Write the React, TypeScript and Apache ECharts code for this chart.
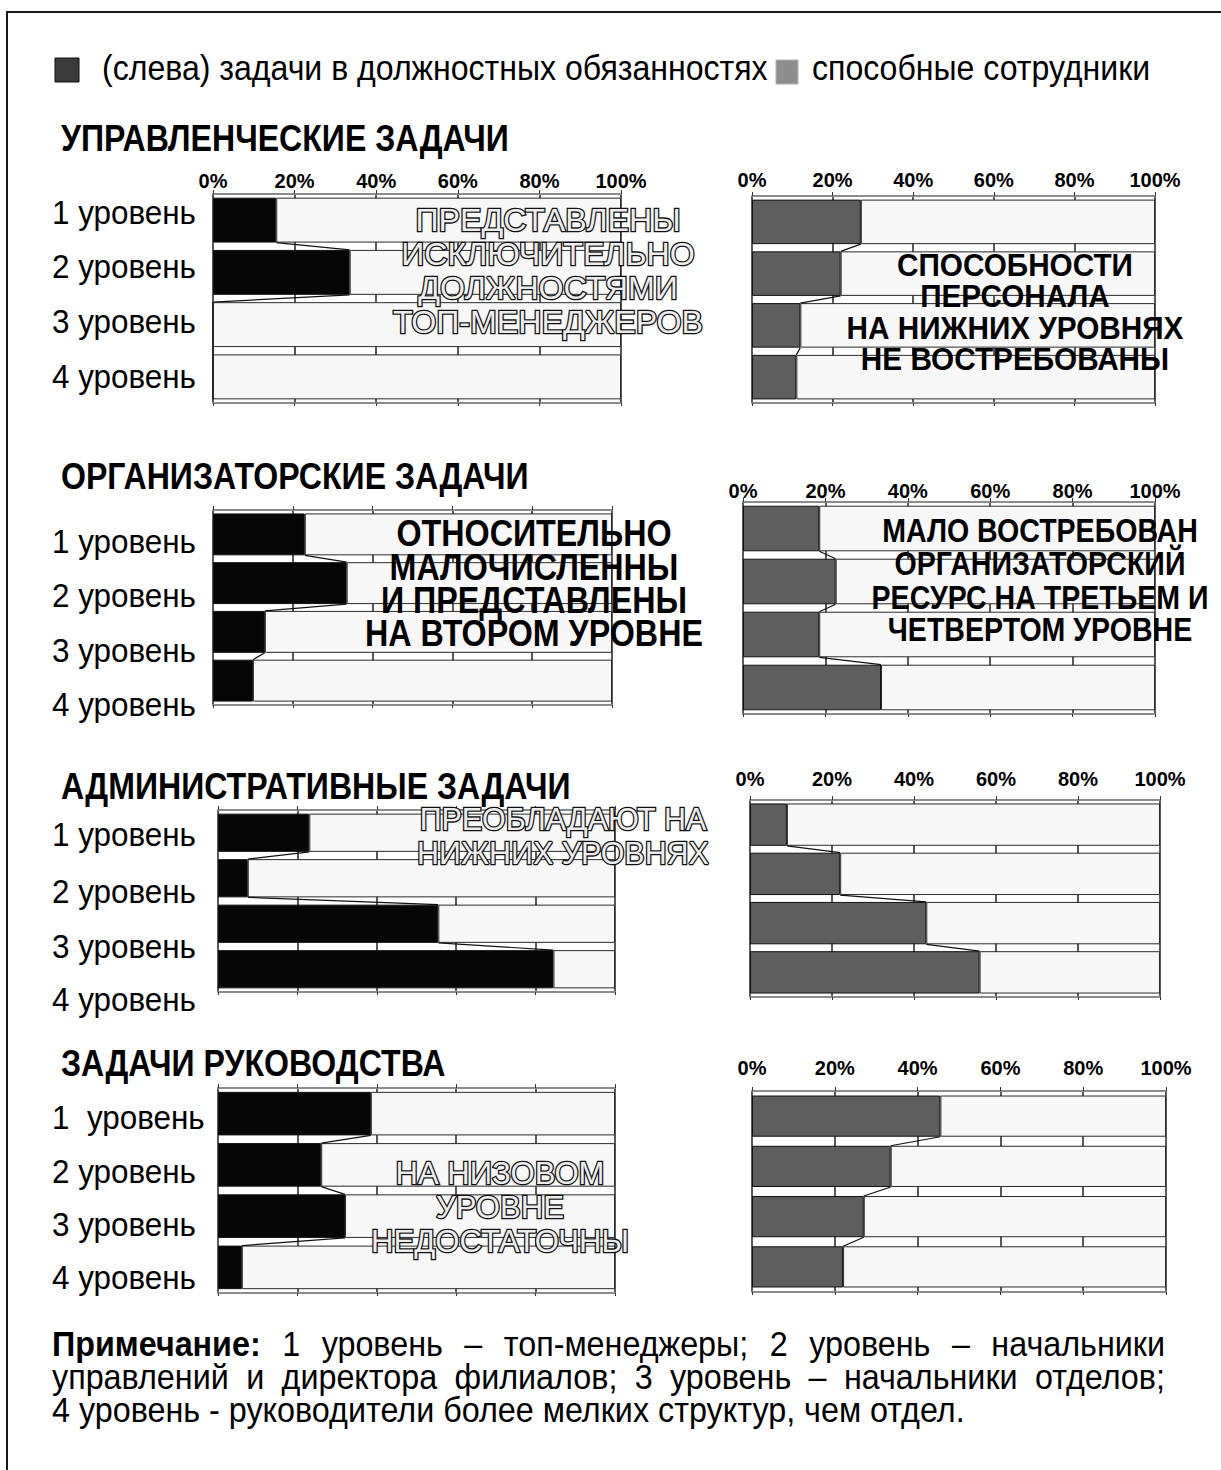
import React, { useEffect, useRef } from 'react';
import * as echarts from 'echarts';

const FONT = '"Liberation Sans", Arial, sans-serif';

// ---------- data ----------
const LEVELS = ['1 уровень', '2 уровень', '3 уровень', '4 уровень'];
const LEVELS_RUK = ['1  уровень', '2 уровень', '3 уровень', '4 уровень'];
const PCT_TICKS = [0, 20, 40, 60, 80, 100];

const UPR_DUTIES = [15.5, 33.5, 0, 0];
const UPR_ABLE = [27, 22, 12, 11];
const ORG_DUTIES = [23, 33.5, 13, 10];
const ORG_ABLE = [18.5, 22.5, 18.5, 33.5];
const ADM_DUTIES = [23, 7.5, 55.5, 84.5];
const ADM_ABLE = [9, 22, 43, 56];
const RUK_DUTIES = [38.5, 26, 32, 6];
const RUK_ABLE = [45.5, 33.5, 27, 22];

const TITLES = ['УПРАВЛЕНЧЕСКИЕ ЗАДАЧИ', 'ОРГАНИЗАТОРСКИЕ ЗАДАЧИ', 'АДМИНИСТРАТИВНЫЕ ЗАДАЧИ', 'ЗАДАЧИ РУКОВОДСТВА'];
const LEGEND_DUTIES = '(слева) задачи в должностных обязанностях';
const LEGEND_ABLE = 'способные сотрудники';

const NOTE_HEAD = 'Примечание:';
const NOTE_LINE1 = ['1', 'уровень', '–', 'топ-менеджеры;', '2', 'уровень', '–', 'начальники'];
const NOTE_LINE2 = ['управлений', 'и', 'директора', 'филиалов;', '3', 'уровень', '–', 'начальники', 'отделов;'];
const NOTE_LINE3 = '4 уровень - руководители более мелких структур, чем отдел.';

// ---------- layout ----------
const PCT_MIN = PCT_TICKS[0];
const PCT_MAX = PCT_TICKS[PCT_TICKS.length - 1];
const PCT_STEP = PCT_TICKS[1] - PCT_TICKS[0];

type ChartCfg = {
  values: number[];
  side: 'L' | 'R';
  grid: { left: number; top: number; width: number; height: number };
  labelY?: number;
  gap: number;
  levelY?: number[];
  levels?: string[];
};

const CHARTS: ChartCfg[] = [
  { values: UPR_DUTIES, side: 'L', grid: { left: 213, top: 194, width: 408, height: 209 }, labelY: 181, gap: 14, levelY: [213, 267, 322, 377], levels: LEVELS },
  { values: UPR_ABLE, side: 'R', grid: { left: 752, top: 196, width: 403, height: 207 }, labelY: 180, gap: 14 },
  { values: ORG_DUTIES, side: 'L', grid: { left: 213, top: 510, width: 399, height: 195 }, gap: 14, levelY: [542, 596, 651, 705], levels: LEVELS },
  { values: ORG_ABLE, side: 'R', grid: { left: 743, top: 502, width: 412, height: 212 }, labelY: 491, gap: 14 },
  { values: ADM_DUTIES, side: 'L', grid: { left: 218, top: 810, width: 397, height: 182 }, gap: 16, levelY: [835, 892, 947, 1000], levels: LEVELS },
  { values: ADM_ABLE, side: 'R', grid: { left: 750, top: 800, width: 410, height: 197 }, labelY: 779, gap: 14 },
  { values: RUK_DUTIES, side: 'L', grid: { left: 218, top: 1088, width: 397, height: 205 }, gap: 15, levelY: [1118, 1172, 1225, 1278], levels: LEVELS_RUK },
  { values: RUK_ABLE, side: 'R', grid: { left: 752, top: 1091, width: 414, height: 201 }, labelY: 1068, gap: 18 },
];

const TITLE_Y = [138, 476, 786, 1063];

type Ann = { lines: string[]; cx: number; ys: number[]; outline: boolean; fitIdx: number; fitW: number; sy: number };
const ANNS: Ann[] = [
  { lines: ['ПРЕДСТАВЛЕНЫ', 'ИСКЛЮЧИТЕЛЬНО', 'ДОЛЖНОСТЯМИ', 'ТОП-МЕНЕДЖЕРОВ'], cx: 548, ys: [220, 254, 288, 322], outline: true, fitIdx: 3, fitW: 310, sy: 1 },
  { lines: ['СПОСОБНОСТИ', 'ПЕРСОНАЛА', 'НА НИЖНИХ УРОВНЯХ', 'НЕ ВОСТРЕБОВАНЫ'], cx: 1015, ys: [265, 296, 328, 359], outline: false, fitIdx: 2, fitW: 337, sy: 1.08 },
  { lines: ['ОТНОСИТЕЛЬНО', 'МАЛОЧИСЛЕННЫ', 'И ПРЕДСТАВЛЕНЫ', 'НА ВТОРОМ УРОВНЕ'], cx: 534, ys: [533, 567, 600, 633], outline: false, fitIdx: 3, fitW: 338, sy: 1.15 },
  { lines: ['МАЛО ВОСТРЕБОВАН', 'ОРГАНИЗАТОРСКИЙ', 'РЕСУРС НА ТРЕТЬЕМ И', 'ЧЕТВЕРТОМ УРОВНЕ'], cx: 1040, ys: [531, 564, 598, 630], outline: false, fitIdx: 2, fitW: 337, sy: 1.15 },
  { lines: ['ПРЕОБЛАДАЮТ НА', 'НИЖНИХ УРОВНЯХ'], cx: 563, ys: [819, 853], outline: true, fitIdx: 1, fitW: 292, sy: 1 },
  { lines: ['НА НИЗОВОМ', 'УРОВНЕ', 'НЕДОСТАТОЧНЫ'], cx: 500, ys: [1173, 1207, 1241], outline: true, fitIdx: 2, fitW: 258, sy: 1 },
];

let measureCtx: CanvasRenderingContext2D | null = null;
function textW(t: string, size: number, weight = 'normal'): number {
  if (!measureCtx) measureCtx = document.createElement('canvas').getContext('2d');
  const ctx = measureCtx!;
  ctx.font = `${weight} ${size}px "Liberation Sans"`;
  return ctx.measureText(t).width;
}
function fitSize(t: string, w: number, weight = 'normal'): number {
  return (w / textW(t, 100, weight)) * 100;
}

function txt(text: string, x: number, y: number, size: number, weight: string, extra: any = {}, sy = 1) {
  return {
    type: 'text',
    z: 50,
    silent: true,
    x,
    y,
    scaleY: sy,
    style: {
      text,
      x: 0,
      y: 0,
      fontSize: size,
      fontWeight: weight,
      fontFamily: FONT,
      fill: '#000',
      textAlign: 'left',
      textVerticalAlign: 'middle',
      ...extra,
    },
  };
}

function buildOption() {
  const grid: any[] = [];
  const xAxis: any[] = [];
  const yAxis: any[] = [];
  const series: any[] = [];
  const graphic: any[] = [];

  const lvlSize = fitSize('3 уровень', 144);

  CHARTS.forEach((c, k) => {
    grid.push({ ...c.grid, containLabel: false });
    const margin = c.labelY !== undefined ? Math.max(0, c.grid.top - c.labelY - 10) : 8;
    xAxis.push({
      gridIndex: k,
      type: 'value',
      position: 'top',
      min: PCT_MIN,
      max: PCT_MAX,
      interval: PCT_STEP,
      axisLine: { show: true, lineStyle: { color: '#8c8c8c', width: 2 } },
      axisTick: { show: true, length: 4, lineStyle: { color: '#333', width: 1 } },
      axisLabel: {
        show: c.labelY !== undefined,
        formatter: '{value}%',
        fontSize: 20,
        fontWeight: 'bold',
        fontFamily: FONT,
        color: '#000',
        margin,
      },
      splitLine: { show: true, lineStyle: { color: '#222', width: 1.5 } },
    });
    xAxis.push({
      gridIndex: k,
      type: 'value',
      position: 'bottom',
      min: PCT_MIN,
      max: PCT_MAX,
      interval: PCT_STEP,
      axisLine: { show: true, lineStyle: { color: '#8c8c8c', width: 2 } },
      axisTick: { show: true, length: 3, lineStyle: { color: '#333', width: 1 } },
      axisLabel: { show: false },
      splitLine: { show: false },
    });
    yAxis.push({
      gridIndex: k,
      type: 'category',
      inverse: true,
      data: LEVELS,
      axisLine: { show: false },
      axisTick: { show: false },
      axisLabel: { show: false },
      splitLine: { show: false },
    });

    const dark = c.side === 'L' ? '#060606' : '#5e5e5e';
    const name = c.side === 'L' ? 'задачи в должностных обязанностях' : LEGEND_ABLE;
    series.push({
      type: 'bar',
      name,
      xAxisIndex: k * 2,
      yAxisIndex: k,
      stack: 's' + k,
      barCategoryGap: c.gap + '%',
      data: c.values,
      itemStyle: { color: dark, borderColor: '#111', borderWidth: 1 },
      z: 2,
      silent: true,
    });
    series.push({
      type: 'bar',
      name: 'остальные',
      xAxisIndex: k * 2,
      yAxisIndex: k,
      stack: 's' + k,
      barCategoryGap: c.gap + '%',
      data: c.values.map((v) => PCT_MAX - v),
      itemStyle: { color: '#f7f7f7', borderColor: '#2a2a2a', borderWidth: 1 },
      z: 2,
      silent: true,
    });
    const frac = 1 - c.gap / 100;
    series.push({
      type: 'custom',
      name: 'линии',
      xAxisIndex: k * 2,
      yAxisIndex: k,
      silent: true,
      z: 3,
      data: c.values.slice(0, -1).map((v, i) => [i, v, c.values[i + 1]]),
      encode: { x: [1, 2], y: 0 },
      renderItem: (params: any, api: any) => {
        const i = api.value(0);
        const a = api.value(1);
        const b = api.value(2);
        const p1 = api.coord([a, i]);
        const p2 = api.coord([b, i + 1]);
        const band = api.size([0, 1])[1];
        const half = (band * frac) / 2;
        return {
          type: 'line',
          shape: { x1: p1[0], y1: p1[1] + half, x2: p2[0], y2: p2[1] - half },
          style: { stroke: '#111', lineWidth: 1.2 },
        };
      },
    });

    if (c.levels && c.levelY) {
      c.levels.forEach((l, i) => {
        graphic.push(txt(l, 52, c.levelY![i], lvlSize, 'normal', {}, 1.05));
      });
    }
  });

  // outer border
  graphic.push({
    type: 'rect',
    z: 1,
    silent: true,
    shape: { x: 7, y: 12, width: 1240, height: 1500 },
    style: { fill: 'none', stroke: '#1a1a1a', lineWidth: 2 },
  });

  // legend
  const legSize = fitSize(LEGEND_DUTIES, 666);
  graphic.push({ type: 'rect', z: 50, silent: true, shape: { x: 55, y: 58, width: 24, height: 24 }, style: { fill: '#3a3a3a', stroke: '#111', lineWidth: 1 } });
  graphic.push(txt(LEGEND_DUTIES, 102, 68, legSize, 'normal', {}, 1.08));
  graphic.push({ type: 'rect', z: 50, silent: true, shape: { x: 776, y: 60, width: 22, height: 24 }, style: { fill: '#8e8e8e', stroke: '#b0b0b0', lineWidth: 1 } });
  graphic.push(txt(LEGEND_ABLE, 812, 68, legSize, 'normal', {}, 1.08));

  // titles
  const titleSize = fitSize(TITLES[0], 448, 'bold');
  TITLES.forEach((t, i) => graphic.push(txt(t, 61, TITLE_Y[i], titleSize, 'bold', {}, 1.15)));

  // annotations
  ANNS.forEach((a) => {
    const weight = a.outline ? 'normal' : 'bold';
    const size = fitSize(a.lines[a.fitIdx], a.fitW, weight);
    a.lines.forEach((l, i) => {
      graphic.push(
        txt(
          l,
          a.cx,
          a.ys[i],
          size,
          weight,
          a.outline
            ? { textAlign: 'center', fill: '#ececec', stroke: '#111', lineWidth: 2.6 }
            : { textAlign: 'center', fill: '#000' },
          a.sy
        )
      );
    });
  });

  // note
  const noteSize = fitSize(NOTE_LINE3, 913);
  const L = 52, R = 1165;
  const y1 = 1344, y2 = 1377, y3 = 1410;
  const noteSy = 1.08;
  {
    const headW = textW(NOTE_HEAD, noteSize, 'bold');
    const ws = NOTE_LINE1.map((w) => textW(w, noteSize));
    const total = headW + ws.reduce((s, w) => s + w, 0);
    const gap = (R - L - total) / NOTE_LINE1.length;
    graphic.push(txt(NOTE_HEAD, L, y1, noteSize, 'bold', {}, noteSy));
    let x = L + headW + gap;
    NOTE_LINE1.forEach((w, i) => {
      graphic.push(txt(w, x, y1, noteSize, 'normal', {}, noteSy));
      x += ws[i] + gap;
    });
  }
  {
    const ws = NOTE_LINE2.map((w) => textW(w, noteSize));
    const total = ws.reduce((s, w) => s + w, 0);
    const gap = (R - L - total) / (NOTE_LINE2.length - 1);
    let x = L;
    NOTE_LINE2.forEach((w, i) => {
      graphic.push(txt(w, x, y2, noteSize, 'normal', {}, noteSy));
      x += ws[i] + gap;
    });
  }
  graphic.push(txt(NOTE_LINE3, L, y3, noteSize, 'normal', {}, noteSy));

  return {
    animation: false,
    backgroundColor: '#ffffff',
    grid,
    xAxis,
    yAxis,
    series,
    graphic,
  };
}

export default function App() {
  const ref = useRef<HTMLDivElement>(null);
  useEffect(() => {
    if (!ref.current) return;
    const chart = echarts.init(ref.current, null, { renderer: 'svg' });
    chart.setOption(buildOption() as any);
    return () => chart.dispose();
  }, []);
  return (
    <div
      ref={ref}
      style={{ position: 'absolute', left: 0, top: 0, width: 1221, height: 1470, background: '#fff' }}
    />
  );
}
